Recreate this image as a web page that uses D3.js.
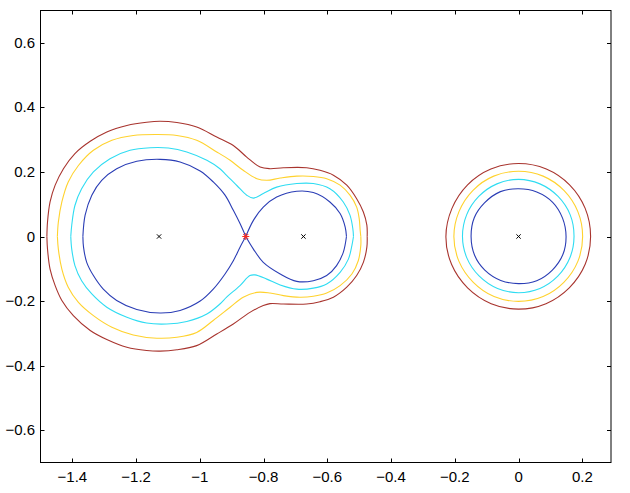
<!DOCTYPE html>
<html>
<head>
<meta charset="utf-8">
<script src="https://cdn.jsdelivr.net/npm/d3@7/dist/d3.min.js"></script>
<style>
  body { margin: 0; background: #fff; }
  svg { display: block; }
  text { font-family: "Liberation Sans", Arial, Helvetica, sans-serif; font-size: 15px; fill: #000; }
</style>
</head>
<body>
<svg id="chart"></svg>
<script>
// tick values
const xTicks = [-1.4, -1.2, -1, -0.8, -0.6, -0.4, -0.2, 0, 0.2];
const yTicks = [-0.6, -0.4, -0.2, 0, 0.2, 0.4, 0.6];

// level names / colours (outer levels drawn last)
const levels = ['blue', 'cyan', 'yellow', 'red'];
const levelColors = ['#2a3db5', '#2fdcf2', '#ffd22e', '#a8342e'];

// left blob: upper and lower halves
const redUpper = [[-1.480,0],[-1.478,0.045],[-1.470,0.107],[-1.454,0.159],[-1.428,0.210],[-1.392,0.257],[-1.344,0.295],[-1.292,0.324],[-1.229,0.344],[-1.167,0.354],[-1.125,0.357],[-1.072,0.353],[-1.010,0.339],[-0.947,0.308],[-0.895,0.282],[-0.853,0.246],[-0.811,0.215],[-0.780,0.210],[-0.738,0.213],[-0.665,0.213],[-0.623,0.205],[-0.581,0.190],[-0.539,0.159],[-0.508,0.117],[-0.487,0.076],[-0.476,0.035],[-0.475,0]];
const redLower = [[-1.480,0],[-1.478,-0.039],[-1.470,-0.101],[-1.454,-0.152],[-1.433,-0.198],[-1.397,-0.245],[-1.344,-0.291],[-1.292,-0.319],[-1.229,-0.343],[-1.167,-0.353],[-1.125,-0.355],[-1.072,-0.351],[-1.010,-0.338],[-0.947,-0.302],[-0.895,-0.271],[-0.843,-0.235],[-0.801,-0.214],[-0.780,-0.208],[-0.738,-0.209],[-0.665,-0.209],[-0.623,-0.202],[-0.581,-0.188],[-0.539,-0.157],[-0.508,-0.121],[-0.487,-0.080],[-0.476,-0.033],[-0.475,0]];

const yellowUpper = [[-1.447,0],[-1.444,0.045],[-1.433,0.107],[-1.413,0.169],[-1.381,0.220],[-1.334,0.267],[-1.276,0.298],[-1.209,0.313],[-1.135,0.316],[-1.072,0.313],[-1.010,0.298],[-0.947,0.262],[-0.905,0.236],[-0.864,0.205],[-0.821,0.179],[-0.790,0.174],[-0.748,0.181],[-0.696,0.187],[-0.644,0.186],[-0.602,0.179],[-0.560,0.159],[-0.529,0.128],[-0.508,0.091],[-0.500,0.055],[-0.497,0.019],[-0.495,0]];
const yellowLower = [[-1.447,0],[-1.444,-0.039],[-1.433,-0.101],[-1.413,-0.157],[-1.381,-0.204],[-1.334,-0.245],[-1.276,-0.281],[-1.209,-0.305],[-1.135,-0.315],[-1.072,-0.312],[-1.010,-0.297],[-0.958,-0.260],[-0.905,-0.219],[-0.864,-0.188],[-0.821,-0.173],[-0.780,-0.175],[-0.738,-0.183],[-0.686,-0.188],[-0.644,-0.185],[-0.602,-0.175],[-0.560,-0.152],[-0.523,-0.116],[-0.503,-0.075],[-0.495,-0.028],[-0.495,0]];

const cyanUpper = [[-1.405,0],[-1.402,0.035],[-1.392,0.096],[-1.371,0.148],[-1.334,0.200],[-1.282,0.241],[-1.219,0.267],[-1.156,0.275],[-1.099,0.274],[-1.041,0.262],[-0.978,0.236],[-0.937,0.210],[-0.916,0.189],[-0.884,0.158],[-0.853,0.128],[-0.832,0.119],[-0.801,0.133],[-0.759,0.153],[-0.696,0.164],[-0.644,0.164],[-0.592,0.148],[-0.550,0.107],[-0.529,0.066],[-0.520,0.024],[-0.518,0]];
const cyanLower = [[-1.405,0],[-1.402,-0.039],[-1.392,-0.090],[-1.371,-0.137],[-1.339,-0.178],[-1.292,-0.219],[-1.229,-0.250],[-1.167,-0.268],[-1.104,-0.271],[-1.041,-0.263],[-0.978,-0.240],[-0.937,-0.209],[-0.916,-0.188],[-0.874,-0.152],[-0.843,-0.121],[-0.827,-0.119],[-0.790,-0.132],[-0.748,-0.150],[-0.696,-0.163],[-0.644,-0.160],[-0.602,-0.147],[-0.560,-0.111],[-0.534,-0.070],[-0.523,-0.028],[-0.518,0]];

// blue passes through the saddle: four pieces that meet there
const blueLeftUpper = [[-1.367,0],[-1.360,0.066],[-1.339,0.128],[-1.308,0.174],[-1.261,0.210],[-1.198,0.233],[-1.125,0.239],[-1.062,0.231],[-0.999,0.203],[-0.958,0.169],[-0.921,0.128],[-0.895,0.081],[-0.874,0.040],[-0.856,0]];
const blueLeftLower = [[-1.367,0],[-1.365,-0.033],[-1.355,-0.080],[-1.334,-0.121],[-1.303,-0.163],[-1.261,-0.198],[-1.198,-0.226],[-1.125,-0.237],[-1.062,-0.229],[-0.999,-0.200],[-0.958,-0.163],[-0.921,-0.116],[-0.895,-0.075],[-0.874,-0.033],[-0.856,0]];
const blueRightUpper = [[-0.856,0],[-0.832,0.050],[-0.801,0.091],[-0.759,0.122],[-0.696,0.140],[-0.644,0.136],[-0.592,0.107],[-0.560,0.071],[-0.544,0.029],[-0.540,0]];
const blueRightLower = [[-0.856,0],[-0.832,-0.039],[-0.801,-0.080],[-0.748,-0.116],[-0.696,-0.139],[-0.644,-0.137],[-0.602,-0.121],[-0.571,-0.090],[-0.550,-0.049],[-0.540,0]];

// right circles round the origin
const blueCircle = [[0.149,0],[0.138,0.057],[0.107,0.106],[0.057,0.138],[0,0.148],[-0.057,0.139],[-0.107,0.104],[-0.139,0.058],[-0.149,0],[-0.138,-0.058],[-0.106,-0.104],[-0.056,-0.136],[0,-0.146],[0.057,-0.137],[0.106,-0.104],[0.139,-0.056]];
const cyanCircle = [[0.174,0],[0.162,0.067],[0.124,0.124],[0.067,0.163],[0,0.177],[-0.068,0.163],[-0.125,0.124],[-0.163,0.067],[-0.176,0],[-0.162,-0.067],[-0.124,-0.122],[-0.066,-0.161],[0,-0.174],[0.067,-0.161],[0.123,-0.123],[0.161,-0.066]];
const yellowCircle = [[0.201,0],[0.186,0.077],[0.143,0.142],[0.077,0.187],[0,0.202],[-0.078,0.187],[-0.143,0.143],[-0.187,0.077],[-0.203,0],[-0.187,-0.077],[-0.142,-0.142],[-0.077,-0.186],[0,-0.201],[0.077,-0.186],[0.142,-0.142],[0.186,-0.077]];
const redCircle = [[0.226,0],[0.209,0.087],[0.160,0.160],[0.087,0.209],[0,0.226],[-0.087,0.209],[-0.160,0.160],[-0.209,0.087],[-0.228,0],[-0.210,-0.087],[-0.160,-0.159],[-0.086,-0.208],[0,-0.225],[0.086,-0.208],[0.159,-0.159],[0.209,-0.086]];

// poles (x) and the saddle point (*)
const poles = [[-1.128,0],[-0.675,0],[0,0]];
const saddle = [[-0.856,0]];

const W = 630, H = 493;
const svg = d3.select('#chart').attr('width', W).attr('height', H);

const x = d3.scaleLinear().domain([-1.5, 0.29]).range([40.5, 611]);
const y = d3.scaleLinear().domain([-0.7, 0.7]).range([462.5, 10.5]);

const line = d3.line().x(d => x(d[0])).y(d => y(d[1])).curve(d3.curveCatmullRom);
const closed = d3.line().x(d => x(d[0])).y(d => y(d[1])).curve(d3.curveCatmullRomClosed);

const open = {
  blue: [blueLeftUpper, blueLeftLower, blueRightUpper, blueRightLower],
  cyan: [cyanUpper, cyanLower],
  yellow: [yellowUpper, yellowLower],
  red: [redUpper, redLower]
};
const rings = { blue: blueCircle, cyan: cyanCircle, yellow: yellowCircle, red: redCircle };

const g = svg.append('g');
levels.forEach((lv, i) => {
  g.selectAll('path.o-' + lv)
    .data(open[lv])
    .enter().append('path')
    .attr('d', line)
    .attr('fill', 'none')
    .attr('stroke', levelColors[i])
    .attr('stroke-width', 1.1);
  g.append('path')
    .attr('d', closed(rings[lv]))
    .attr('fill', 'none')
    .attr('stroke', levelColors[i])
    .attr('stroke-width', 1.1);
});

// pole markers
svg.append('g').selectAll('path')
  .data(poles)
  .enter().append('path')
  .attr('d', d3.symbol().type(d3.symbolX).size(14))
  .attr('transform', d => 'translate(' + x(d[0]) + ',' + y(d[1]) + ')')
  .attr('fill', 'none')
  .attr('stroke', '#000')
  .attr('stroke-width', 1);

// saddle asterisk
svg.append('g').selectAll('path')
  .data(saddle)
  .enter().append('path')
  .attr('d', 'M-3.5,0H3.5M0,-3.5V3.5M-2.5,-2.5L2.5,2.5M-2.5,2.5L2.5,-2.5')
  .attr('transform', d => 'translate(' + x(d[0]) + ',' + y(d[1]) + ')')
  .attr('fill', 'none')
  .attr('stroke', '#ff2a1a')
  .attr('stroke-width', 1);

// frame and inward ticks on all sides
const x0 = x.range()[0], x1 = x.range()[1], y0 = y.range()[0], y1 = y.range()[1];
const tl = 4;
const axes = svg.append('g').attr('stroke', '#000').attr('stroke-width', 1);

axes.append('rect')
  .attr('x', x0).attr('y', y1)
  .attr('width', x1 - x0).attr('height', y0 - y1)
  .attr('fill', 'none');

xTicks.forEach(t => {
  const px = Math.round(x(t)) + 0.5;
  axes.append('line').attr('x1', px).attr('x2', px).attr('y1', y0).attr('y2', y0 - tl);
  axes.append('line').attr('x1', px).attr('x2', px).attr('y1', y1).attr('y2', y1 + tl);
});
yTicks.forEach(t => {
  const py = Math.round(y(t)) + 0.5;
  axes.append('line').attr('x1', x0).attr('x2', x0 + tl).attr('y1', py).attr('y2', py);
  axes.append('line').attr('x1', x1).attr('x2', x1 - tl).attr('y1', py).attr('y2', py);
});

const fmt = d3.format('~g');
svg.append('g').selectAll('text')
  .data(xTicks)
  .enter().append('text')
  .attr('x', d => x(d))
  .attr('y', 482)
  .attr('text-anchor', 'middle')
  .text(d => fmt(d));

svg.append('g').selectAll('text')
  .data(yTicks)
  .enter().append('text')
  .attr('x', 35)
  .attr('y', d => y(d) + 5)
  .attr('text-anchor', 'end')
  .text(d => fmt(d));
</script>
</body>
</html>
